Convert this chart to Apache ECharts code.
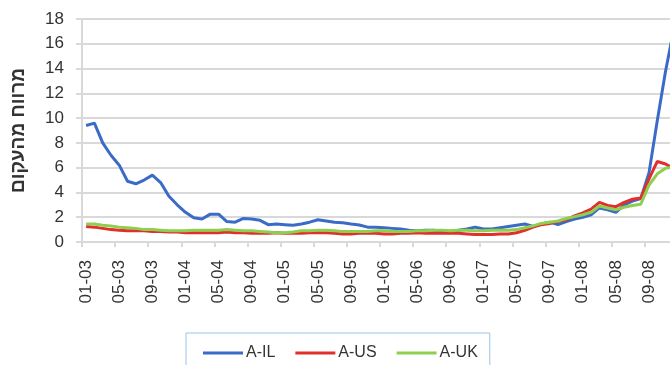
<!DOCTYPE html>
<html>
<head>
<meta charset="utf-8">
<script src="https://cdn.jsdelivr.net/npm/echarts@6/dist/echarts.min.js"></script>
<style>
  html, body { margin: 0; padding: 0; background: #fff; overflow: hidden; }
  #chart { width: 700px; height: 365px; }
</style>
</head>
<body>
<div id="chart"></div>
<script>
// Monthly categories MM-YY, Jan 2003 .. Dec 2008
const years = ['03', '04', '05', '06', '07', '08'];
const months = ['01','02','03','04','05','06','07','08','09','10','11','12'];
const categories = [];
years.forEach(y => months.forEach(m => categories.push(m + '-' + y)));

// Spread over the curve, per index
const seriesNames = ['A-IL', 'A-US', 'A-UK'];

const aIL = [
  9.4, 9.6, 8.0, 7.0, 6.2, 4.9, 4.7, 5.0, 5.4, 4.8, 3.7, 3.0,
  2.4, 1.95, 1.85, 2.25, 2.25, 1.65, 1.6, 1.9, 1.85, 1.75, 1.4, 1.45,
  1.4, 1.35, 1.45, 1.6, 1.8, 1.7, 1.6, 1.55, 1.45, 1.37, 1.2, 1.2,
  1.15, 1.1, 1.05, 0.95, 0.9, 0.95, 0.95, 0.85, 0.85, 0.95, 1.05, 1.2,
  1.05, 1.05, 1.15, 1.25, 1.35, 1.45, 1.25, 1.45, 1.6, 1.4, 1.65, 1.85,
  2.0, 2.2, 2.75, 2.6, 2.4, 3.0, 3.3, 3.5, 5.6, 9.8, 13.8, 17.2
];

const aUS = [
  1.25, 1.2, 1.1, 1.0, 0.95, 0.9, 0.9, 0.9, 0.85, 0.85, 0.8, 0.8,
  0.75, 0.75, 0.75, 0.75, 0.75, 0.8, 0.75, 0.75, 0.7, 0.7, 0.7, 0.75,
  0.7, 0.7, 0.7, 0.75, 0.75, 0.75, 0.7, 0.65, 0.65, 0.7, 0.7, 0.7,
  0.65, 0.65, 0.7, 0.7, 0.75, 0.7, 0.7, 0.7, 0.7, 0.7, 0.65, 0.6,
  0.6, 0.6, 0.65, 0.65, 0.75, 0.95, 1.2, 1.4, 1.5, 1.65, 1.8, 2.1,
  2.35, 2.65, 3.2, 2.95, 2.85, 3.2, 3.45, 3.55, 5.1, 6.5, 6.3, 5.9
];

const aUK = [
  1.45, 1.45, 1.35, 1.3, 1.2, 1.15, 1.1, 1.0, 1.0, 0.95, 0.9, 0.9,
  0.9, 0.95, 0.95, 0.95, 0.95, 1.0, 0.95, 0.9, 0.9, 0.85, 0.8, 0.75,
  0.75, 0.8, 0.9, 0.9, 0.95, 0.95, 0.9, 0.85, 0.85, 0.85, 0.85, 0.9,
  0.9, 0.85, 0.85, 0.85, 0.9, 0.9, 0.95, 0.95, 0.9, 0.95, 0.95, 0.9,
  0.9, 0.95, 0.95, 0.95, 1.0, 1.15, 1.3, 1.5, 1.6, 1.7, 1.9, 2.05,
  2.2, 2.4, 2.9, 2.75, 2.6, 2.8, 2.95, 3.05, 4.6, 5.5, 5.95, 6.05
];

const yAxisTitle = 'מרווח מהעקום';

const colors = ['#3A6BC6', '#E0302C', '#8FCF4F'];
const fontFamily = '"Liberation Sans", "DejaVu Sans", Arial, sans-serif';
const textColor = '#333333';
const gridColor = '#d9d9d9';

const chart = echarts.init(document.getElementById('chart'), null, { renderer: 'canvas' });

chart.setOption({
  animation: false,
  color: colors,
  textStyle: { fontFamily: fontFamily },
  grid: { left: 82, right: 22, top: 19, bottom: 123, containLabel: false },
  legend: {
    left: 186,
    top: 333,
    orient: 'horizontal',
    data: seriesNames,
    icon: 'rect',
    itemWidth: 40,
    itemHeight: 3,
    itemGap: 20,
    padding: [12, 12, 16, 17],
    borderColor: '#9DC3E6',
    borderWidth: 1,
    backgroundColor: '#fff',
    textStyle: { color: textColor, fontSize: 16, fontFamily: fontFamily, padding: [0, 0, 0, -2] }
  },
  xAxis: {
    type: 'category',
    data: categories,
    boundaryGap: true,
    axisLine: { show: true, lineStyle: { color: gridColor, width: 2 } },
    axisTick: { show: true, interval: 3, length: 5, lineStyle: { color: gridColor, width: 2 } },
    axisLabel: {
      interval: 3,
      rotate: 90,
      margin: 18,
      color: textColor,
      fontSize: 17,
      fontFamily: fontFamily
    },
    splitLine: { show: false }
  },
  yAxis: {
    type: 'value',
    min: 0,
    max: 18,
    interval: 2,
    name: yAxisTitle,
    nameLocation: 'middle',
    nameRotate: 90,
    nameGap: 54,
    nameTextStyle: { color: textColor, fontSize: 19, fontWeight: 'bold', fontFamily: fontFamily },
    axisLine: { show: true, lineStyle: { color: gridColor, width: 2 } },
    axisTick: { show: true, length: 6, lineStyle: { color: gridColor, width: 2 } },
    axisLabel: { margin: 18, color: textColor, fontSize: 17, fontFamily: fontFamily },
    splitLine: { show: true, lineStyle: { color: gridColor, width: 2 } }
  },
  series: [
    { name: seriesNames[0], type: 'line', data: aIL, symbol: 'none', lineStyle: { width: 3 }, z: 2 },
    { name: seriesNames[1], type: 'line', data: aUS, symbol: 'none', lineStyle: { width: 3 }, z: 3 },
    { name: seriesNames[2], type: 'line', data: aUK, symbol: 'none', lineStyle: { width: 3 }, z: 4 }
  ]
});
</script>
</body>
</html>
